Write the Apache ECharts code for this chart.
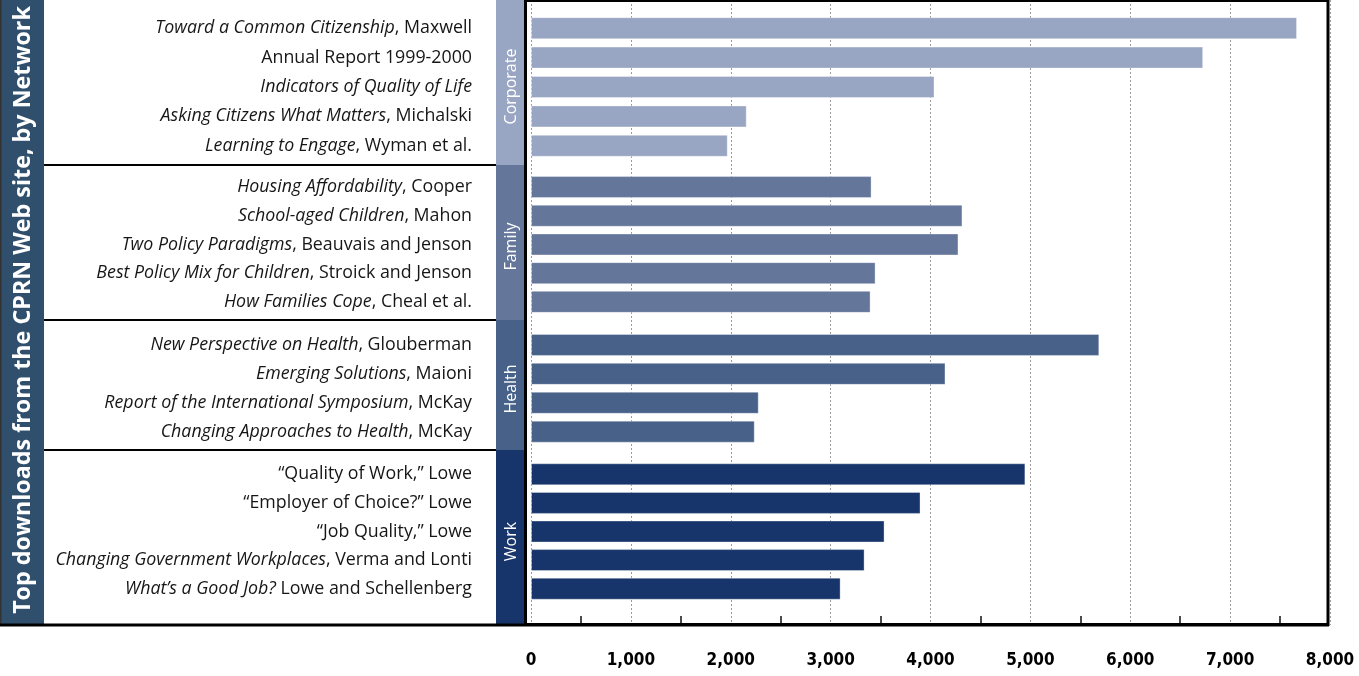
<!DOCTYPE html>
<html>
<head>
<meta charset="utf-8">
<script src="https://cdn.jsdelivr.net/npm/echarts@6/dist/echarts.min.js"></script>
<style>
html,body{margin:0;padding:0;background:#fff;}
#chart{width:1359px;height:676px;}
</style>
</head>
<body>
<div id="chart"></div>
<script>
// ---------- DATA ----------
const chartTitle = 'Top downloads from the CPRN Web site, by Network';
const groupNames = ['Corporate', 'Family', 'Health', 'Work'];

const corporateTitles = ['Toward a Common Citizenship', '', 'Indicators of Quality of Life', 'Asking Citizens What Matters', 'Learning to Engage'];
const corporateAuthors = [', Maxwell', 'Annual Report 1999-2000', '', ', Michalski', ', Wyman et al.'];
const corporateValues = [7670, 6730, 4040, 2160, 1970];

const familyTitles = ['Housing Affordability', 'School-aged Children', 'Two Policy Paradigms', 'Best Policy Mix for Children', 'How Families Cope'];
const familyAuthors = [', Cooper', ', Mahon', ', Beauvais and Jenson', ', Stroick and Jenson', ', Cheal et al.'];
const familyValues = [3410, 4320, 4280, 3450, 3400];

const healthTitles = ['New Perspective on Health', 'Emerging Solutions', 'Report of the International Symposium', 'Changing Approaches to Health'];
const healthAuthors = [', Glouberman', ', Maioni', ', McKay', ', McKay'];
const healthValues = [5690, 4150, 2280, 2240];

const workTitles = ['', '', '', 'Changing Government Workplaces', 'What\u2019s a Good Job?'];
const workAuthors = ['\u201cQuality of Work,\u201d Lowe', '\u201cEmployer of Choice?\u201d Lowe', '\u201cJob Quality,\u201d Lowe', ', Verma and Lonti', ' Lowe and Schellenberg'];
const workValues = [4950, 3900, 3540, 3340, 3100];

const xMin = 0, xMax = 8000, xStep = 1000;
const xTickLabels = ['0', '1,000', '2,000', '3,000', '4,000', '5,000', '6,000', '7,000', '8,000'];

// ---------- STYLE / LAYOUT ----------
const groupColors = ['#99a6c3', '#64769a', '#476189', '#17356a'];
const titleBandColor = '#2f4f6d';
const gridLeft = 531, gridWidth = 799;
const groupGridTops = [13.5, 172.7, 330.5, 460];
const groupGridHeights = [147, 143.5, 115.6, 143];
const bandEdges = [0, 165, 320, 450, 625];
const bandX = 496, bandW = 28;
const labelFont = "'Open Sans', 'Noto Sans', sans-serif";

const groups = [
  {titles: corporateTitles, authors: corporateAuthors, values: corporateValues},
  {titles: familyTitles, authors: familyAuthors, values: familyValues},
  {titles: healthTitles, authors: healthAuthors, values: healthValues},
  {titles: workTitles, authors: workAuthors, values: workValues}
];

const grids = [], xAxes = [], yAxes = [], series = [];
groups.forEach((g, gi) => {
  grids.push({left: gridLeft, width: gridWidth, top: groupGridTops[gi], height: groupGridHeights[gi]});
  xAxes.push({gridIndex: gi, type: 'value', min: xMin, max: xMax, interval: xStep, show: false});
  const cats = g.titles.map((t, i) => t + g.authors[i]);
  yAxes.push({
    gridIndex: gi, type: 'category', inverse: true, data: cats,
    axisLine: {show: false}, axisTick: {show: false},
    axisLabel: {
      margin: 59, align: 'right',
      formatter: function (v, idx) {
        let s = '';
        if (g.titles[idx]) s += '{i|' + g.titles[idx] + '}';
        if (g.authors[idx]) s += '{n|' + g.authors[idx] + '}';
        return s;
      },
      rich: {
        i: {fontStyle: 'italic', fontSize: 17.8, fontFamily: labelFont, color: '#161616'},
        n: {fontSize: 17.8, fontFamily: labelFont, color: '#161616'}
      }
    }
  });
  series.push({
    type: 'bar', xAxisIndex: gi, yAxisIndex: gi, data: g.values,
    barWidth: 22, z: 3,
    itemStyle: {color: groupColors[gi], borderColor: 'rgba(255,255,255,0.35)', borderWidth: 1},
    silent: true
  });
});

// background grid carrying the value axis (grid lines, ticks, labels)
grids.push({left: gridLeft, width: gridWidth, top: 0, height: 625});
xAxes.push({
  gridIndex: 4, type: 'value', min: xMin, max: xMax, interval: xStep, position: 'bottom',
  axisLine: {show: false},
  axisTick: {show: false, inside: true},
  minorTick: {show: true, splitNumber: 2, length: 9, lineStyle: {color: '#111', width: 1.5}},
  splitLine: {show: true, lineStyle: {color: '#9a9a9a', type: [2, 2], width: 1}},
  axisLabel: {
    margin: 27, color: '#000', fontSize: 17, fontWeight: 900,
    fontFamily: "'Liberation Sans Narrow', 'DejaVu Sans Condensed', 'DejaVu Sans', sans-serif",
    formatter: function (v) { return xTickLabels[Math.round((v - xMin) / xStep)]; }
  }
});
yAxes.push({gridIndex: 4, type: 'value', min: 0, max: 1, show: false});

// ---------- decorations ----------
const graphics = [];
// title band
graphics.push({type: 'rect', shape: {x: 0, y: 0, width: 44, height: 625}, style: {fill: titleBandColor}, z: 5});
graphics.push({type: 'rect', shape: {x: 0, y: 0, width: 1.5, height: 625}, style: {fill: '#333'}, z: 6});
graphics.push({
  type: 'text', x: 23, y: 310, rotation: Math.PI / 2, z: 7,
  style: {text: chartTitle, fill: '#fff', fontSize: 23.3, fontWeight: 'bold',
    fontFamily: "'Open Sans', 'DejaVu Sans', sans-serif", align: 'center', verticalAlign: 'middle'}
});
// group bands and labels
groupNames.forEach((name, gi) => {
  const y0 = bandEdges[gi], y1 = bandEdges[gi + 1];
  graphics.push({type: 'rect', shape: {x: bandX, y: y0, width: bandW, height: y1 - y0}, style: {fill: groupColors[gi]}, z: 5});
  graphics.push({
    type: 'text', x: bandX + bandW / 2 + 1, y: (y0 + y1) / 2 + 4, rotation: Math.PI / 2, z: 7,
    style: {text: name, fill: '#fff', fontSize: 16, fontFamily: labelFont, align: 'center', verticalAlign: 'middle'}
  });
  if (gi > 0) {
    graphics.push({type: 'line', shape: {x1: 44, y1: y0, x2: bandX, y2: y0}, style: {stroke: '#000', lineWidth: 2}, z: 6});
  }
});
// plot frame
graphics.push({type: 'rect', shape: {x: 525.5, y: 0.5, width: 802.5, height: 624}, style: {fill: null, stroke: '#000', lineWidth: 3}, z: 8});
// bottom rule
graphics.push({type: 'line', shape: {x1: 0, y1: 625, x2: 1329, y2: 625}, style: {stroke: '#000', lineWidth: 3}, z: 8});

const chart = echarts.init(document.getElementById('chart'), null, {renderer: 'canvas'});
chart.setOption({
  backgroundColor: '#ffffff',
  animation: false,
  grid: grids,
  xAxis: xAxes,
  yAxis: yAxes,
  series: series,
  graphic: graphics
});
</script>
</body>
</html>
